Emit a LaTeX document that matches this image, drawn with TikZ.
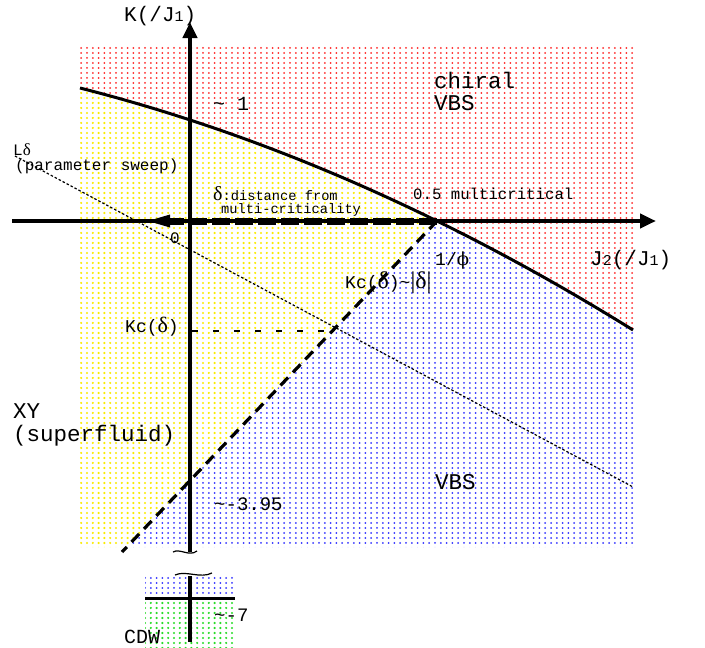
\documentclass[tikz,border=0pt]{standalone}
\usepackage{fontspec}
\setmainfont{Liberation Mono}
\newfontfamily\sy{Liberation Serif}
\newfontfamily\dv{DejaVu Serif}
\usetikzlibrary{arrows.meta,patterns}
\newcommand\fsz[1]{\fontsize{#1}{#1}\selectfont}
\pgfdeclarepatternformonly{pdots}{\pgfqpoint{-1.2pt}{-1.2pt}}{\pgfqpoint{1.2pt}{1.2pt}}{\pgfqpoint{5.8pt}{5pt}}{\pgfpathcircle{\pgfpointorigin}{1pt}\pgfusepath{fill}}
\pgfdeclarepatternformonly{pdotsbig}{\pgfqpoint{-1.4pt}{-1.4pt}}{\pgfqpoint{1.4pt}{1.4pt}}{\pgfqpoint{5.8pt}{5pt}}{\pgfpathcircle{\pgfpointorigin}{1.2pt}\pgfusepath{fill}}
\definecolor{pr}{RGB}{255,40,40}
\definecolor{pb}{RGB}{50,50,255}
\definecolor{py}{RGB}{250,235,0}
\definecolor{pg}{RGB}{40,220,40}
\tikzset{
  txt/.style={inner sep=0pt, anchor=base west, text=black},
  axis/.style={line width=4pt, -{Triangle[length=16pt,width=14pt]}},
  bound/.style={line width=3pt},
  dbound/.style={line width=3.2pt, dash pattern=on 11pt off 7pt},
  sweep/.style={line width=1.2pt, dash pattern=on 2.5pt off 2pt},
  breakmark/.style={line width=1.2pt},
}
\begin{document}
\begin{tikzpicture}[x=1pt, y=-1pt, declare function={cv(\t)=69.8+0.2009*\t+3.32*(\t/100)^2;}]
\useasboundingbox (0,0) rectangle (705,648);
\fill[white] (0,0) rectangle (705,648);
% regions
\fill[pattern=pdots, pattern color=pr] (80,44) -- (633,44) -- (633,330) -- plot[domain=0:1,samples=60] ({633-553*\x},{cv(633-553*\x)}) -- cycle;
\fill[pattern=pdotsbig, pattern color=py] (80,547) -- plot[domain=80:437,samples=40] (\x,{cv(\x)}) -- (127,547) -- cycle;
\fill[pattern=pdots, pattern color=pb] (127,547) -- plot[domain=437:633,samples=30] (\x,{cv(\x)}) -- (633,547) -- cycle;
\fill[pattern=pdots, pattern color=pb] (145,576) rectangle (235,598);
\fill[pattern=pdotsbig, pattern color=pg] (145,598) rectangle (235,648);
% coordinates
\coordinate (mc) at (437,221);
\coordinate (xl) at (12,221);
\coordinate (xr) at (656,221);
\coordinate (yb) at (190,552);
\coordinate (yt) at (190,22);
\coordinate (db) at (122,552);
\coordinate (dt) at (166,221);
\coordinate (dtip) at (148,221);
\coordinate (ls) at (15,156);
\coordinate (le) at (633,487);
\coordinate (kc) at (192,331);
\coordinate (kx) at (333,331);
\coordinate (lb) at (190,576);
\coordinate (lt) at (190,642);
\coordinate (hl) at (145,598);
\coordinate (hr) at (235,598);
% boundaries
\draw[bound] plot[domain=80:633,samples=60] (\x,{cv(\x)});
\draw[dbound] (mc) -- (db);
\draw[line width=1.3pt, dash pattern=on 6pt off 15pt] (kc) -- (kx);
\draw[sweep] (ls) -- (le);
% axes
\draw[axis] (xl) -- (xr);
\draw[axis] (yb) -- (yt);
\draw[line width=4pt] (lb) -- (lt);
\draw[line width=3pt] (hl) -- (hr);
% delta arrow
\draw[line width=7pt, dash pattern=on 18pt off 5pt] (mc) -- (dt);
\fill (dtip) -- ++(22,-6.5) -- ++(0,13) -- cycle;
% break marks
\draw[breakmark] (173,552) .. controls (180,548) and (189,557) .. (197,551);
\draw[breakmark] (175,575) .. controls (186,570) and (200,579) .. (212,573);
% labels
\node[txt] (chiral) at (434,88) {\fsz{22.5}chiral};
\node[txt] (vbs1) at (434,110) {\fsz{22.5}VBS};
\node[txt] (ky) at (124,21) {\fsz{21}K(/J{\fsz{15}1})};
\node[txt] (jx) at (590,265) {\fsz{21}J{\fsz{15}2}(/J{\fsz{15}1})};
\node[txt] (one) at (213,110) {\fsz{20}\textasciitilde{} 1};
\node[txt] (mcl) at (413,199) {\fsz{15.7}0.5 multicritical};
\node[txt] (phi) at (435,265) {\fsz{18}1/{\dv ϕ}};
\node[txt] (kcd) at (345,288) {\fsz{18}Kc({\sy\fsz{24}δ})\textasciitilde{\sy\fsz{24}|δ|}};
\node[txt] (kcl) at (125,332) {\fsz{18}Kc({\sy\fsz{22}δ})};
\node[txt] (zero) at (170,243) {\fsz{16}0};
\node[txt] (ld) at (13,155) {\fsz{16}L{\sy\fsz{17}δ}};
\node[txt] (ps) at (15,170) {\fsz{16}(parameter sweep)};
\node[txt] (dd) at (213,200) {{\sy\fsz{20}δ}\fsz{13.7}:distance from};
\node[txt] (mcr) at (221,213) {\fsz{13.7}multi-criticality};
\node[txt] (xy) at (13,418) {\fsz{22.5}XY};
\node[txt] (sf) at (13,441) {\fsz{22.5}(superfluid)};
\node[txt] (vbs2) at (435,489) {\fsz{22.5}VBS};
\node[txt] (m395) at (214,510) {\fsz{19}\textasciitilde-3.95};
\node[txt] (m7) at (214,621) {\fsz{19}\textasciitilde-7};
\node[txt] (cdw) at (124,643) {\fsz{20}CDW};
\end{tikzpicture}
\end{document}
